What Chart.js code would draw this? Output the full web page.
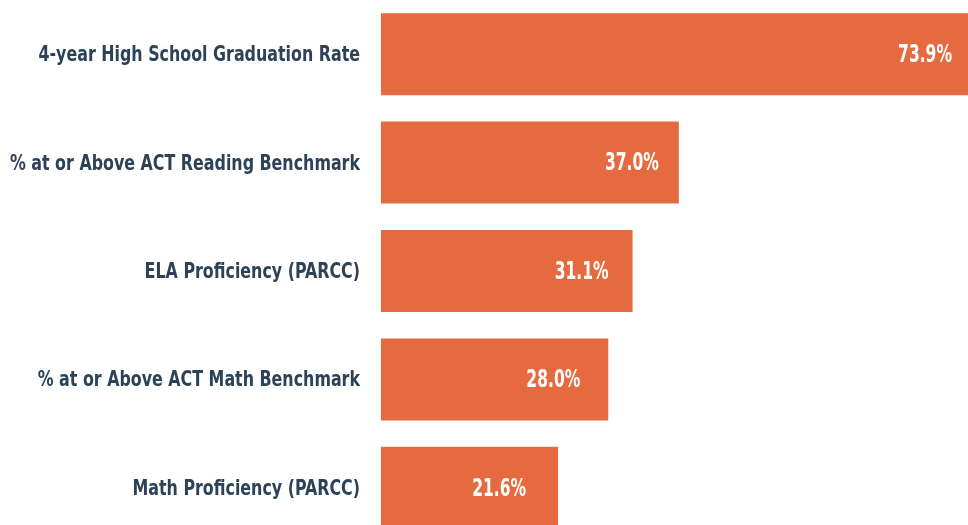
<!DOCTYPE html>
<html>
<head>
<meta charset="utf-8">
<script src="https://cdn.jsdelivr.net/npm/chart.js@4.4.1/dist/chart.umd.min.js"></script>
<style>
  html, body { margin: 0; padding: 0; background: #fff; overflow: hidden; }
  #wrap { width: 968px; height: 542px; position: relative; }
</style>
</head>
<body>
<div id="wrap"><canvas id="chart"></canvas></div>
<script>
const categories = [
  "4-year High School Graduation Rate",
  "% at or Above ACT Reading Benchmark",
  "ELA Proficiency (PARCC)",
  "% at or Above ACT Math Benchmark",
  "Math Proficiency (PARCC)",
];
const values = [73.9, 37.0, 31.1, 28.0, 21.6];

const barColor = "#e66a3f";
const labelColor = "#2b4257";
const fontFamily = "'DejaVu Sans Condensed', 'DejaVu Sans', sans-serif";

// draw text squeezed horizontally (the original uses a condensed gothic face)
function squeezedText(ctx, text, x, y, squeeze) {
  ctx.save();
  ctx.translate(x, y);
  ctx.scale(squeeze, 1);
  ctx.fillText(text, 0, 0);
  ctx.restore();
}

// category labels left of bars, value labels inside the bar end
const barLabels = {
  id: "barLabels",
  afterDatasetsDraw(chart) {
    const ctx = chart.ctx;
    const meta = chart.getDatasetMeta(0);
    const yScale = chart.scales.y;
    ctx.save();
    ctx.textAlign = "right";
    ctx.textBaseline = "middle";

    ctx.fillStyle = labelColor;
    ctx.font = "bold 21px " + fontFamily;
    categories.forEach((label, i) => {
      const y = yScale.getPixelForTick(i);
      squeezedText(ctx, label, chart.chartArea.left - 21, y + 1.5, 0.84);
    });

    ctx.fillStyle = "#fff";
    ctx.font = "bold 24px " + fontFamily;
    meta.data.forEach((bar, i) => {
      const gap = 16 + 4 * i;
      squeezedText(ctx, values[i].toFixed(1) + "%", bar.x - gap, bar.y + 1.5, 0.72);
    });
    ctx.restore();
  },
};

new Chart(document.getElementById("chart").getContext("2d"), {
  type: "bar",
  data: {
    labels: categories,
    datasets: [
      {
        data: values,
        base: -1,
        backgroundColor: barColor,
        hoverBackgroundColor: barColor,
        borderWidth: 0,
        barPercentage: 0.756,
        categoryPercentage: 1,
      },
    ],
  },
  options: {
    indexAxis: "y",
    responsive: true,
    maintainAspectRatio: false,
    animation: false,
    layout: { padding: 0 },
    plugins: {
      legend: { display: false },
      tooltip: { enabled: false },
    },
    scales: {
      x: {
        min: -1,
        max: 73.9,
        display: false,
      },
      y: {
        grid: { display: false, drawTicks: false },
        border: { display: false },
        ticks: { display: false },
        afterFit(scale) {
          scale.width = 381;
          scale.paddingTop = 0;
          scale.paddingBottom = 0;
        },
      },
    },
  },
  plugins: [barLabels],
});
</script>
</body>
</html>
